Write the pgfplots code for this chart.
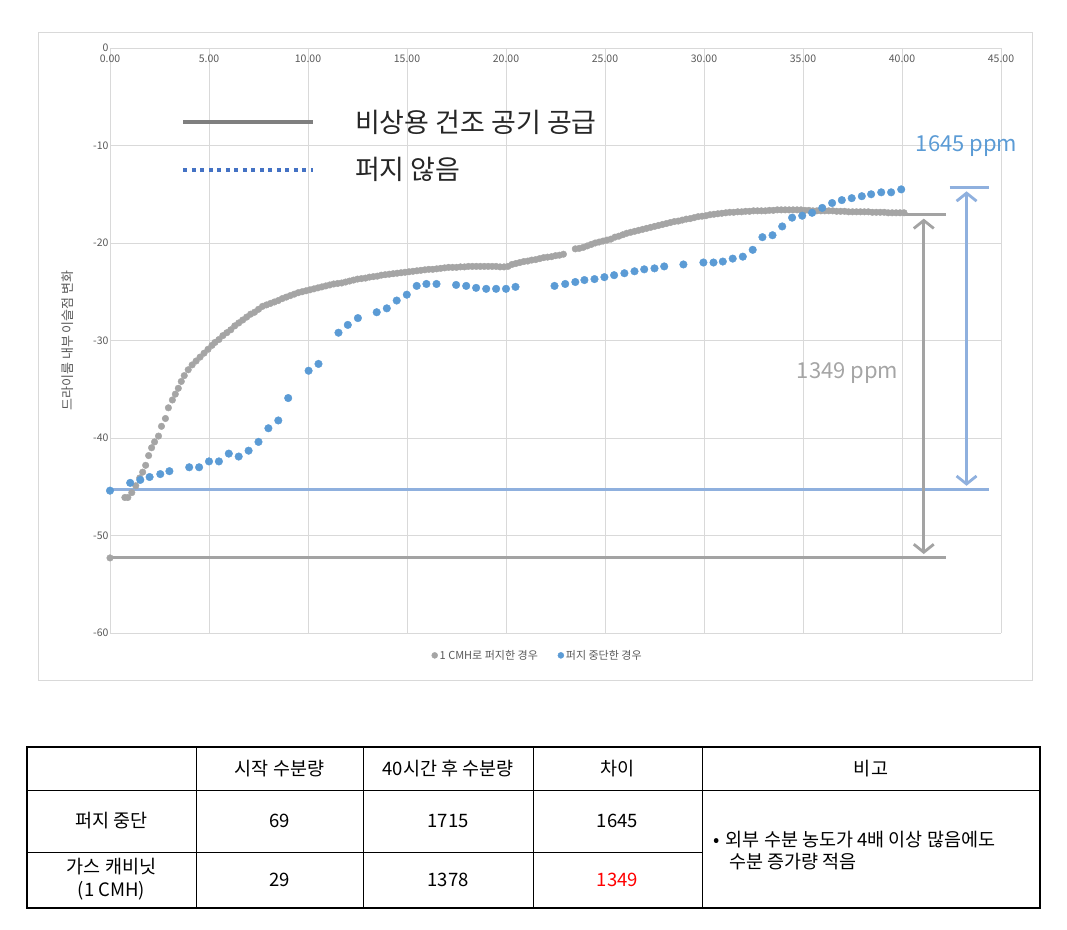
\documentclass[border=0pt]{standalone}
\usepackage{fontspec}
\setmainfont{Noto Sans CJK KR}
\usepackage{pgfplots}
\usepackage{pgfplotstable}
\pgfplotsset{compat=1.18}
\usetikzlibrary{arrows.meta}
\definecolor{sgray}{HTML}{A5A5A5}
\definecolor{sblue}{HTML}{5B9BD5}
\definecolor{lblue}{RGB}{143,176,222}
\definecolor{lgray}{HTML}{A3A3A3}
\definecolor{dgray}{HTML}{7F7F7F}
\definecolor{dblue}{HTML}{4472C4}
\definecolor{gridc}{HTML}{D9D9D9}
\definecolor{tickc}{HTML}{595959}

\pgfplotstableread{
x y
0 -52.3
0.75 -46.1
0.9 -46.1
1.1 -45.6
1.3 -44.9
1.5 -44.1
1.65 -43.5
1.8 -42.8
1.95 -41.8
2.1 -41.0
2.25 -40.4
2.45 -39.8
2.6 -38.8
2.8 -38.0
2.95 -36.9
3.15 -36.1
3.3 -35.5
3.45 -34.9
3.6 -34.2
3.75 -33.6
3.95 -33.0
4.15 -32.5
4.35 -32.1
4.55 -31.7
4.75 -31.3
4.95 -30.9
5.15 -30.5
5.3 -30.2
5.5 -29.9
5.7 -29.5
5.9 -29.2
6.1 -28.9
6.3 -28.5
6.5 -28.2
6.7 -27.9
6.9 -27.6
7.1 -27.3
7.3 -27.1
7.5 -26.8
7.7 -26.5
7.9 -26.35
8.1 -26.2
8.3 -26.05
8.5 -25.9
8.7 -25.7
8.9 -25.55
9.1 -25.4
9.3 -25.25
9.5 -25.1
9.7 -25.0
9.9 -24.9
10.1 -24.8
10.3 -24.7
10.5 -24.6
10.7 -24.5
10.9 -24.4
11.1 -24.3
11.3 -24.2
11.5 -24.15
11.7 -24.1
11.9 -24.0
12.1 -23.9
12.3 -23.8
12.5 -23.7
12.7 -23.65
12.9 -23.6
13.1 -23.5
13.3 -23.45
13.5 -23.4
13.7 -23.3
13.9 -23.25
14.1 -23.2
14.3 -23.15
14.5 -23.1
14.7 -23.05
14.9 -23.0
15.1 -22.95
15.3 -22.9
15.5 -22.85
15.7 -22.8
15.9 -22.75
16.1 -22.7
16.3 -22.7
16.5 -22.65
16.7 -22.6
16.9 -22.55
17.1 -22.5
17.3 -22.5
17.5 -22.5
17.7 -22.45
17.9 -22.45
18.1 -22.4
18.3 -22.4
18.5 -22.4
18.7 -22.4
18.9 -22.4
19.1 -22.4
19.3 -22.4
19.5 -22.4
19.7 -22.45
19.9 -22.45
20.1 -22.4
20.3 -22.2
20.5 -22.1
20.7 -22.0
20.9 -21.9
21.1 -21.85
21.3 -21.75
21.5 -21.7
21.7 -21.6
21.9 -21.5
22.1 -21.45
22.3 -21.4
22.5 -21.3
22.7 -21.25
22.9 -21.15
23.5 -20.6
23.7 -20.55
23.9 -20.45
24.1 -20.3
24.3 -20.15
24.5 -20.0
24.7 -19.9
24.9 -19.8
25.1 -19.7
25.3 -19.6
25.5 -19.4
25.7 -19.3
25.9 -19.15
26.1 -19.0
26.3 -18.9
26.5 -18.8
26.7 -18.7
26.9 -18.6
27.1 -18.5
27.3 -18.4
27.5 -18.3
27.7 -18.2
27.9 -18.1
28.1 -18.0
28.3 -17.9
28.5 -17.8
28.7 -17.75
28.9 -17.65
29.1 -17.55
29.3 -17.5
29.5 -17.4
29.7 -17.3
29.9 -17.25
30.1 -17.2
30.3 -17.1
30.5 -17.05
30.7 -17.0
30.9 -16.95
31.1 -16.9
31.3 -16.85
31.5 -16.85
31.7 -16.8
31.9 -16.8
32.1 -16.75
32.3 -16.75
32.5 -16.7
32.7 -16.7
32.9 -16.7
33.1 -16.7
33.3 -16.65
33.5 -16.65
33.7 -16.6
33.9 -16.6
34.1 -16.6
34.3 -16.6
34.5 -16.6
34.7 -16.6
34.9 -16.6
35.1 -16.65
35.3 -16.65
35.5 -16.7
35.7 -16.7
35.9 -16.7
36.1 -16.7
36.3 -16.7
36.5 -16.7
36.7 -16.75
36.9 -16.75
37.1 -16.75
37.3 -16.8
37.5 -16.8
37.7 -16.8
37.9 -16.8
38.1 -16.8
38.3 -16.8
38.5 -16.85
38.7 -16.85
38.9 -16.85
39.1 -16.85
39.3 -16.9
39.5 -16.9
39.7 -16.9
39.9 -16.9
40.1 -16.9
}\graydata

\pgfplotstableread{
x y
0 -45.4
1.02 -44.6
1.53 -44.3
2.0 -44.0
2.54 -43.7
3.0 -43.4
4.0 -43.0
4.5 -43.0
5.0 -42.4
5.5 -42.4
6.0 -41.6
6.5 -41.9
7.0 -41.3
7.5 -40.4
8.0 -39.0
8.5 -38.2
9.0 -35.9
10.03 -33.1
10.53 -32.4
11.54 -29.2
12.01 -28.4
12.52 -27.7
13.47 -27.1
13.98 -26.7
14.48 -25.9
14.99 -25.3
15.49 -24.4
15.98 -24.2
16.49 -24.2
17.48 -24.3
17.99 -24.4
18.49 -24.6
19.0 -24.7
19.5 -24.7
20.0 -24.7
20.48 -24.5
22.45 -24.4
22.99 -24.2
23.5 -24.0
23.96 -23.8
24.47 -23.7
24.97 -23.5
25.46 -23.3
25.98 -23.1
26.49 -22.9
26.98 -22.7
27.5 -22.6
27.99 -22.4
28.96 -22.2
29.97 -22.0
30.48 -22.0
30.95 -21.9
31.45 -21.6
31.96 -21.4
32.46 -20.7
32.95 -19.4
33.46 -19.2
33.95 -18.3
34.45 -17.4
34.96 -17.2
35.46 -16.9
35.97 -16.4
36.47 -15.9
36.96 -15.6
37.46 -15.4
37.97 -15.2
38.44 -15.0
38.95 -14.8
39.45 -14.8
39.96 -14.5
}\bluedata

\begin{document}
\begin{tikzpicture}
\begin{scope}[x=1pt,y=-1pt]
\path[use as bounding box] (0,0) rectangle (1067,929);
\draw[gridc, line width=1pt] (38,32) rectangle (1032,680);
\end{scope}
\begin{axis}[
  at={(110pt,-633pt)}, anchor=south west,
  scale only axis, width=891pt, height=585pt,
  xmin=0, xmax=45, ymin=-60, ymax=0,
  clip=false,
  axis line style={draw=none},
  major tick length=0pt,
  grid=major, grid style={gridc, line width=0.8pt},
  xtick={0,5,...,45},
  xticklabels={0.00,5.00,10.00,15.00,20.00,25.00,30.00,35.00,40.00,45.00},
  ytick={-60,-50,...,0},
  yticklabels={-60,-50,-40,-30,-20,-10,0},
  xticklabel pos=right,
  xticklabel style={anchor=north, yshift=-3pt},
  ticklabel style={font=\fontsize{10.5}{12}\selectfont, text=tickc},
  yticklabel style={xshift=2pt},
  ylabel={드라이룸 내부 이슬점 변화},
  ylabel style={at={(axis description cs:-0.047,0.5)}, anchor=center, rotate=0, font=\fontsize{13}{15}\selectfont, text=tickc},
  legend style={at={(0.48,-0.022)}, anchor=north, draw=none, fill=none,
    legend columns=2, font=\fontsize{11}{13}\selectfont, text=tickc,
    /tikz/every even column/.append style={column sep=18pt}},
  legend image post style={mark size=3pt},
]
\addplot[only marks, mark=*, mark size=3.3pt, color=sgray] table {\graydata};
\addlegendentry{1 CMH로 퍼지한 경우}
\addplot[only marks, mark=*, mark size=3.8pt, color=sblue] table {\bluedata};
\addlegendentry{퍼지 중단한 경우}

% reference lines
\addplot[lgray, line width=3pt, forget plot] coordinates {(0,-52.3) (42.2,-52.3)};
\addplot[lblue, line width=3pt, forget plot] coordinates {(0,-45.3) (44.4,-45.3)};
\addplot[lgray, line width=3pt, forget plot] coordinates {(40.1,-17.1) (42.2,-17.1)};
\addplot[lblue, line width=3pt, forget plot] coordinates {(42.4,-14.3) (44.4,-14.3)};
\addplot[lgray, line width=2.8pt, {Straight Barb[length=8pt,width=20pt]}-{Straight Barb[length=8pt,width=20pt]}, forget plot] coordinates {(41.1,-17.5) (41.1,-51.9)};
\addplot[lblue, line width=2.8pt, {Straight Barb[length=8pt,width=20pt]}-{Straight Barb[length=8pt,width=20pt]}, forget plot] coordinates {(43.26,-14.7) (43.26,-44.9)};

% in-plot legend
\addplot[dgray, line width=4.5pt, forget plot] coordinates {(3.7,-7.6) (10.26,-7.6)};
\addplot[dblue, line width=4pt, dash pattern=on 4pt off 4.5pt, forget plot] coordinates {(3.7,-12.5) (10.26,-12.5)};
\node[anchor=west, font=\fontsize{27}{32}\selectfont, text=black!85] at (axis cs:12.2,-7.6) {비상용 건조 공기 공급};
\node[anchor=west, font=\fontsize{27}{32}\selectfont, text=black!85] at (axis cs:12.2,-12.5) {퍼지 않음};
\node[font=\fontsize{22}{26}\selectfont, text=sblue] at (axis cs:43.26,-10.05) {1645 ppm};
\node[font=\fontsize{22}{26}\selectfont, text=sgray] at (axis cs:37.25,-33.3) {1349 ppm};
\end{axis}

\begin{scope}[x=1pt,y=-1pt, every node/.style={font=\fontsize{18.5}{23}\selectfont, text=black}]
\draw[line width=1.8pt] (27,747) rectangle (1040,908);
\draw[line width=1pt] (27,790) -- (1040,790);
\draw[line width=1pt] (27,852) -- (702,852);
\foreach \xx in {196,363,533,702} \draw[line width=1pt] (\xx,747) -- (\xx,908);
\node at (279.5,768.5) {시작 수분량};
\node at (448,768.5) {40시간 후 수분량};
\node at (617.5,768.5) {차이};
\node at (871,768.5) {비고};
\node at (111.5,821) {퍼지 중단};
\node at (279.5,821) {69};
\node at (448,821) {1715};
\node at (617.5,821) {1645};
\node[align=center] at (111.5,879) {가스 캐비닛\\(1 CMH)};
\node at (279.5,880) {29};
\node at (448,880) {1378};
\node[text=red] at (617.5,880) {1349};
\node[anchor=west] at (710,840) {•\hspace{6pt}외부 수분 농도가 4배 이상 많음에도};
\node[anchor=west] at (726,862) {수분 증가량 적음};
\end{scope}
\end{tikzpicture}
\end{document}
